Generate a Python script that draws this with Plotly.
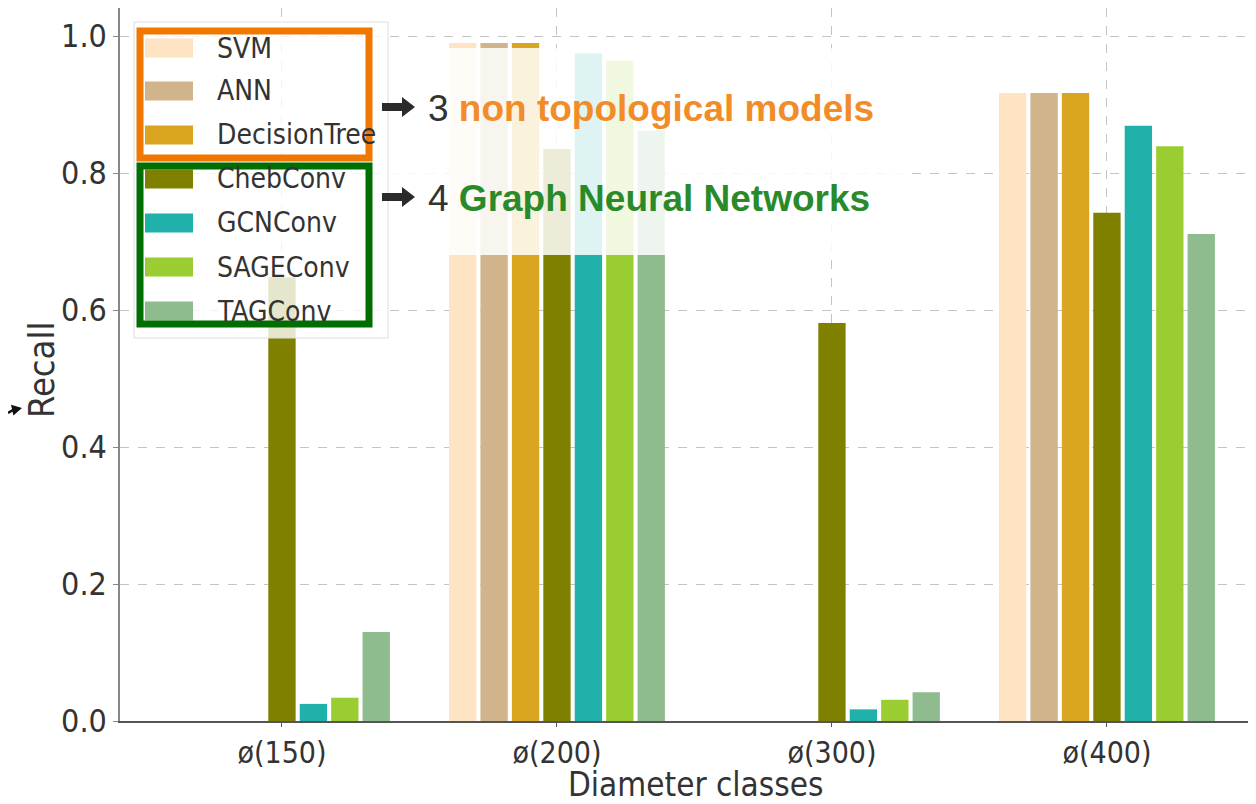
import plotly.graph_objects as go

categories = ["ø(150)", "ø(200)", "ø(300)", "ø(400)"]
models = ["SVM", "ANN", "DecisionTree", "ChebConv", "GCNConv", "SAGEConv", "TAGConv"]
colors = ["#FFE4C4", "#D2B48C", "#DAA520", "#808000", "#20B2AA", "#9ACD32", "#8FBC8F"]

svm = [0.0, 0.99, 0.0, 0.917]
ann = [0.0, 0.99, 0.0, 0.917]
decision_tree = [0.0, 0.99, 0.0, 0.917]
cheb = [0.648, 0.835, 0.581, 0.742]
gcn = [0.025, 0.975, 0.017, 0.869]
sage = [0.034, 0.964, 0.031, 0.839]
tag = [0.13, 0.862, 0.042, 0.711]
series = [svm, ann, decision_tree, cheb, gcn, sage, tag]

y_ticks = [0.0, 0.2, 0.4, 0.6, 0.8, 1.0]

# the page body adds an 8px offset; figure is sized so the page fits the window
OFF = 8
FIG_W, FIG_H = 1256 - OFF, 804 - OFF
# pixel geometry of the plot area (in page / reference pixels)
L, R, T, B = 120, 1256, 8, 721
W, H = R - L, B - T


def px(x):
    return (x - L) / W


def py(y):
    return (B - y) / H


TICKFONT = "DejaVu Sans Condensed, DejaVu Sans, sans-serif"
xpos = list(range(len(categories)))

fig = go.Figure()
for name, vals, col in zip(models, series, colors):
    fig.add_trace(go.Bar(x=xpos, y=vals, name=name, marker=dict(color=col, line=dict(width=0)),
                         showlegend=False))

fig.update_layout(
    width=FIG_W, height=FIG_H,
    margin=dict(l=L - OFF, r=(1256 - R), t=T - OFF, b=FIG_H - (B - OFF), autoexpand=False),
    paper_bgcolor="white", plot_bgcolor="white",
    barmode="group", bargap=0.2, bargroupgap=0.13,
    font=dict(family=TICKFONT, color="#333333"),
)
fig.update_xaxes(
    range=[-0.589, 3.542], tickvals=xpos, ticktext=categories,
    tickfont=dict(size=30, family=TICKFONT, color="#333333"),
    showgrid=True, gridcolor="#c4c4c4", griddash="dash", gridwidth=1,
    showline=True, linecolor="#555555", linewidth=1.5, mirror=True,
    ticks="outside", ticklen=4, tickcolor="#555555",
    zeroline=False,
)
fig.update_yaxes(
    range=[0, 1.041], tickvals=y_ticks, tickformat=".1f",
    tickfont=dict(size=32, family=TICKFONT, color="#333333"),
    showgrid=True, gridcolor="#c4c4c4", griddash="dash", gridwidth=1,
    showline=True, linecolor="#888888", linewidth=1.5,
    ticks="outside", ticklen=5, tickcolor="#888888",
    zeroline=False,
)

shapes = []
annotations = []

# axis titles
annotations.append(dict(xref="paper", yref="paper", x=px(695), y=py(784), text="Diameter classes",
                        showarrow=False, xanchor="center", yanchor="middle",
                        font=dict(size=33, family=TICKFONT, color="#333333")))
annotations.append(dict(xref="paper", yref="paper", x=px(41), y=py(370), text="Recall", textangle=-90,
                        showarrow=False, xanchor="center", yanchor="middle",
                        font=dict(size=36, family=TICKFONT, color="#333333")))

# white fade overlay over the middle of the chart
shapes.append(dict(type="rect", xref="paper", yref="paper", x0=px(386), x1=px(905), y0=py(255), y1=py(48),
                   fillcolor="rgba(255,255,255,0.85)", line=dict(width=0), layer="above"))

# legend frame
shapes.append(dict(type="rect", xref="paper", yref="paper", x0=px(134), x1=px(388), y0=py(338), y1=py(22),
                   fillcolor="rgba(255,255,255,0.8)", line=dict(color="#dddddd", width=1), layer="above"))
rows = [48, 91, 135, 179, 223, 267, 311]
for name, col, yc in zip(models, colors, rows):
    shapes.append(dict(type="rect", xref="paper", yref="paper", x0=px(145), x1=px(193),
                       y0=py(yc + 9.5), y1=py(yc - 9.5), fillcolor=col, line=dict(width=0), layer="above"))
    annotations.append(dict(xref="paper", yref="paper", x=px(215), y=py(yc), text=name, showarrow=False,
                            xanchor="left", yanchor="middle",
                            font=dict(size=28, family=TICKFONT, color="#333333")))

# group boxes
shapes.append(dict(type="rect", xref="paper", yref="paper", x0=px(140), x1=px(369), y0=py(158), y1=py(31),
                   line=dict(color="#F07800", width=7), layer="above"))
shapes.append(dict(type="rect", xref="paper", yref="paper", x0=px(140), x1=px(369), y0=py(324), y1=py(166),
                   line=dict(color="#006E00", width=7), layer="above"))


def poly_path(pts):
    return "M " + " L ".join(f"{px(a):.5f},{py(b):.5f}" for a, b in pts) + " Z"


# block arrows
def block_arrow(x0, yc):
    pts = [(x0, yc - 4), (x0 + 20, yc - 4), (x0 + 20, yc - 10), (x0 + 33, yc),
           (x0 + 20, yc + 10), (x0 + 20, yc + 4), (x0, yc + 4)]
    return dict(type="path", xref="paper", yref="paper", path=poly_path(pts), fillcolor="#2b2b2b",
                line=dict(width=0), layer="above")


shapes.append(block_arrow(382, 107))
shapes.append(block_arrow(382, 197))

annotations.append(dict(xref="paper", yref="paper", x=px(426), y=py(108), showarrow=False,
                        xanchor="left", yanchor="middle",
                        text="3 <b><span style='color:#F28C28'>non topological models</span></b>",
                        font=dict(size=37, family="Liberation Sans, Arial, sans-serif", color="#333333")))
annotations.append(dict(xref="paper", yref="paper", x=px(426), y=py(199), showarrow=False,
                        xanchor="left", yanchor="middle",
                        text="4 <b><span style='color:#2A8A2A'>Graph Neural Networks</span></b>",
                        font=dict(size=37, family="Liberation Sans, Arial, sans-serif", color="#333333")))

# small cropped arrow at the left edge
shapes.append(dict(type="line", xref="paper", yref="paper", x0=px(8), y0=py(413), x1=px(13), y1=py(410),
                   line=dict(color="#111111", width=2.5), layer="above"))
shapes.append(dict(type="path", xref="paper", yref="paper",
                   path=poly_path([(22, 408), (13.4, 415.5), (11.0, 404.8)]),
                   fillcolor="#111111", line=dict(width=0), layer="above"))

fig.update_layout(shapes=shapes, annotations=annotations)
fig.write_html("out.html")
